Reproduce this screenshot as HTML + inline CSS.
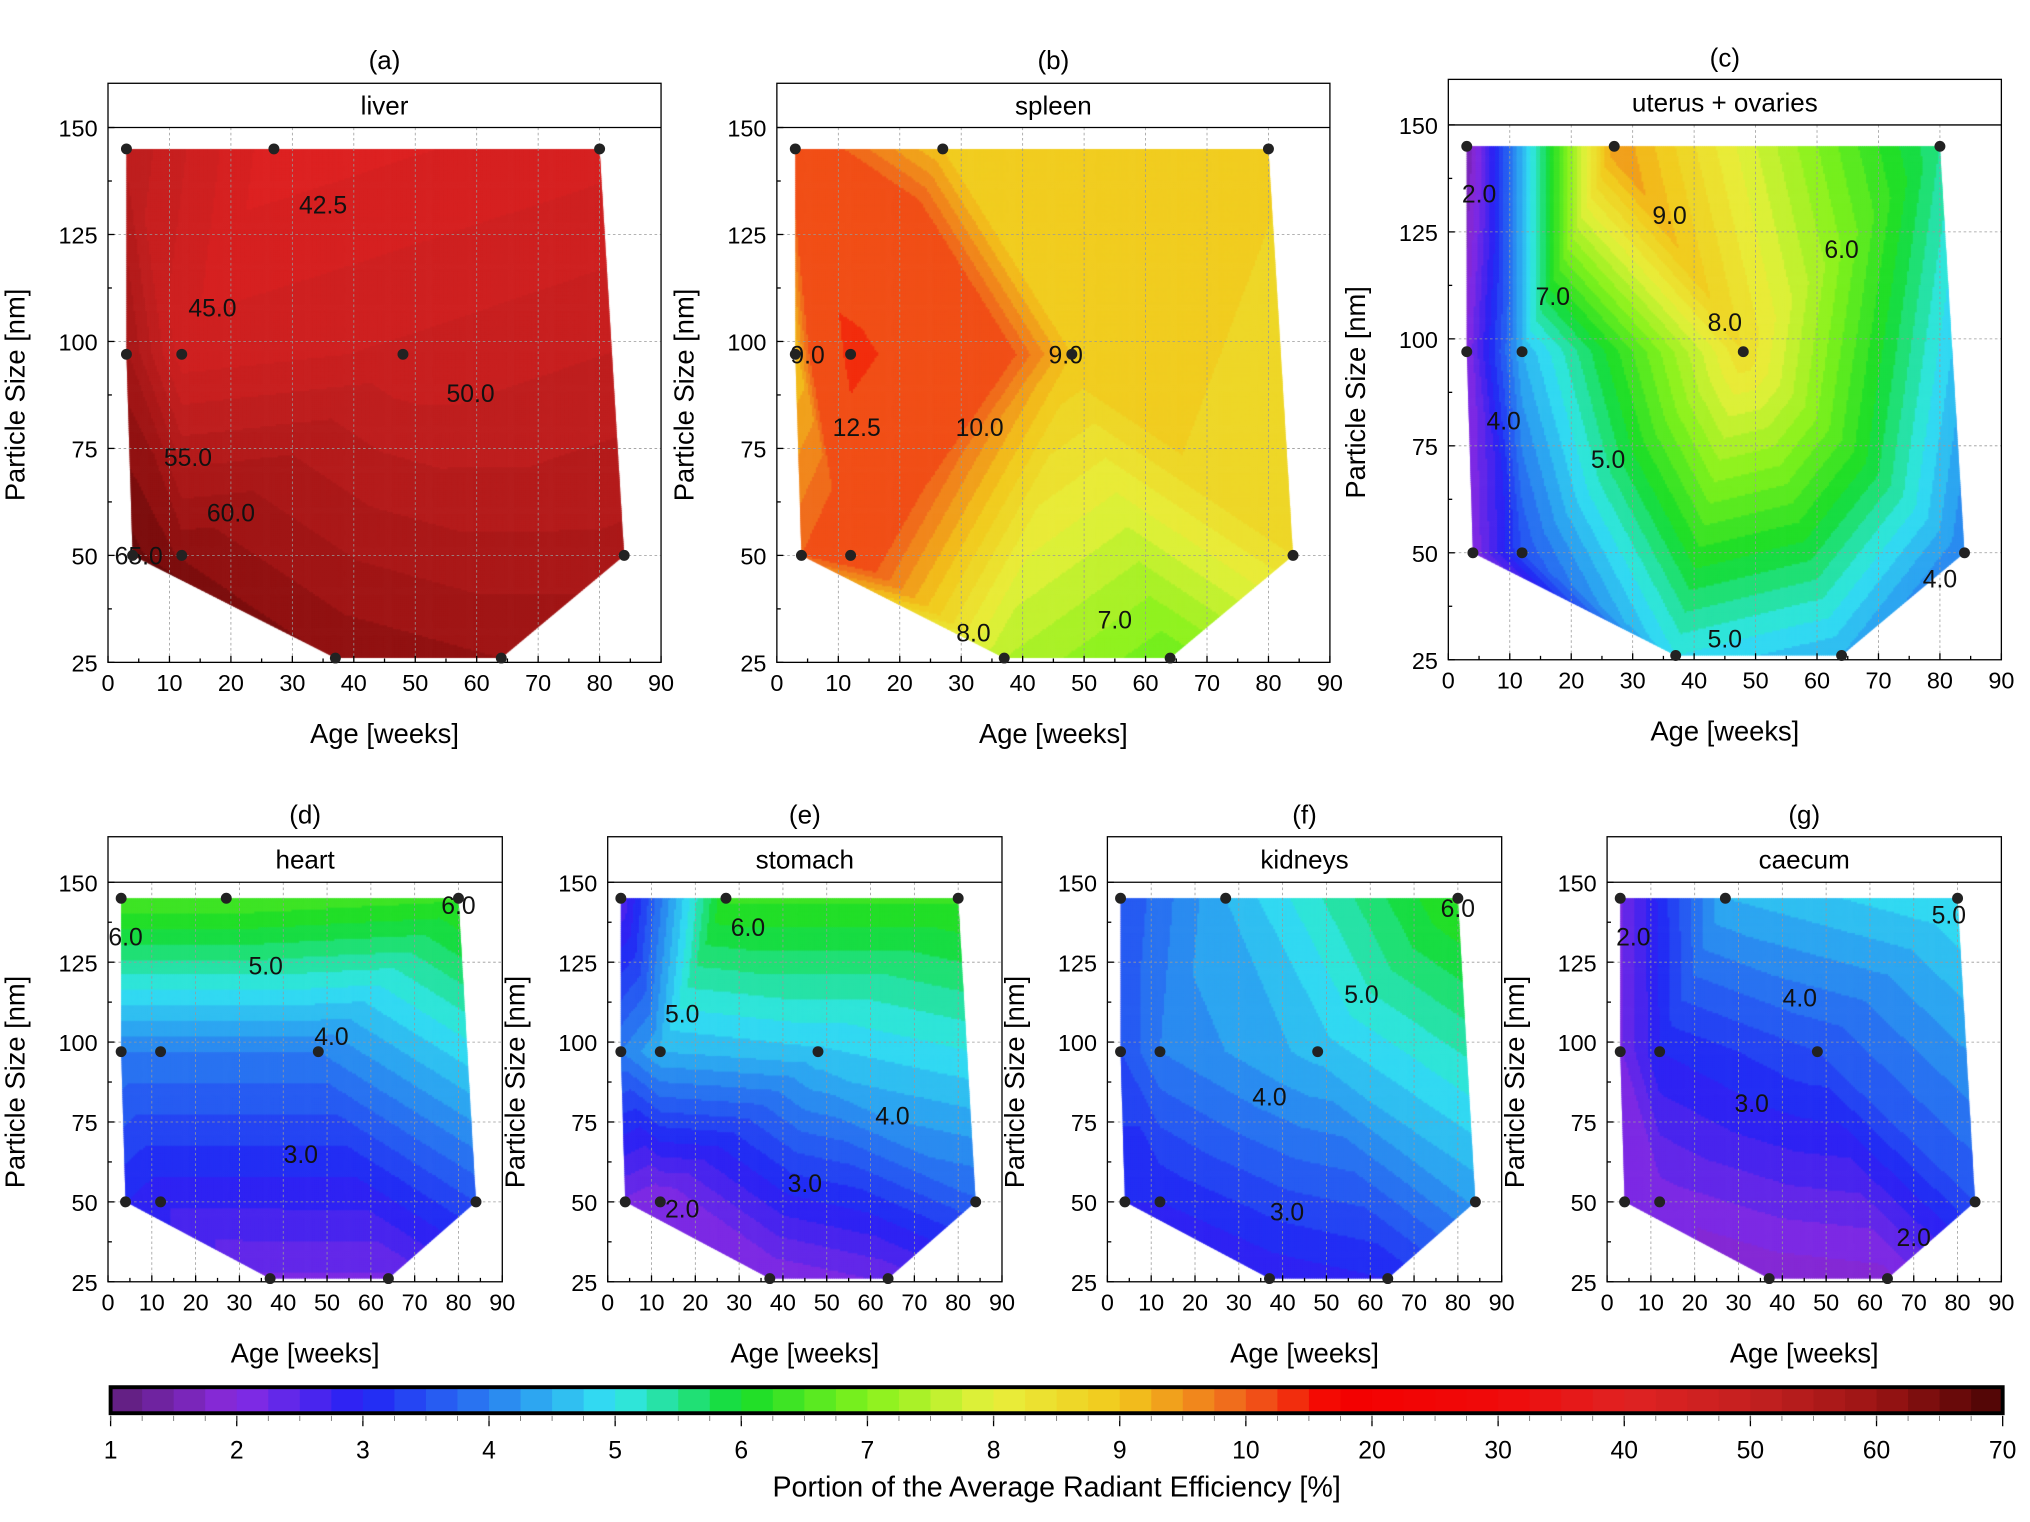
<!DOCTYPE html>
<html><head><meta charset="utf-8"><style>
html,body{margin:0;padding:0;background:#fff;}
#wrap{position:relative;width:2030px;height:1522px;}
canvas,svg{position:absolute;left:0;top:0;}
text{font-family:"Liberation Sans",Arial,sans-serif;}
</style></head><body>
<div id="wrap">
<canvas id="cv" width="2030" height="1522"></canvas>
<svg id="sv" width="2030" height="1522" viewBox="0 0 1560 1169.6" preserveAspectRatio="none"></svg>
</div>
<script>
// ---- data ----
const sampleAges  = [3, 27, 80, 3, 12, 48, 4, 12, 84, 37, 64];
const sampleSizes = [145,145,145, 97, 97, 97, 50, 50, 50, 26, 26];
const hullIdx = [0,1,2,8,10,9,6,3];
const triangles = [[0,1,4],[0,4,3],[1,2,5],[1,5,4],[2,8,5],[3,4,7],[3,7,6],[4,5,7],[5,8,10],[5,10,9],[5,9,7],[7,9,6]];
const organNames = ["liver","spleen","uterus + ovaries","heart","stomach","kidneys","caecum"];
const panelLetters = ["(a)","(b)","(c)","(d)","(e)","(f)","(g)"];
const liverVals   = [52,41,44,58,46,48,66,62,56,62,60];
const spleenVals  = [10.5,9,8.8,9,13,9,10,10.5,8.5,7.5,6.8];
const uterusVals  = [1.5,9.5,5.5,2,4.5,8.5,2,3.5,4,5,4.5];
const heartVals   = [6.5,6.5,6.3,4,4,4,3,2.8,3.5,2.2,2.2];
const stomachVals = [2.5,6.3,6.3,4,4.5,4.7,2.2,2,3.7,2,2.3];
const kidneyVals  = [3.5,4.5,6.3,3.5,4,4.6,3,3,4.3,2.8,3];
const caecumVals  = [2.2,4.5,5,2.2,3,3.5,2.2,2.1,3.5,1.8,1.9];
const panelVals = [liverVals,spleenVals,uterusVals,heartVals,stomachVals,kidneyVals,caecumVals];
const contourLabels = [
 [["42.5",35,132],["45.0",17,108],["50.0",59,88],["55.0",13,73],["60.0",20,60],["65.0",5,50]],
 [["9.0",5,97],["12.5",13,80],["10.0",33,80],["9.0",47,97],["8.0",32,32],["7.0",55,35]],
 [["2.0",5,134],["9.0",36,129],["6.0",64,121],["7.0",17,110],["8.0",45,104],["4.0",9,81],["5.0",26,72],["4.0",80,44],["5.0",45,30]],
 [["6.0",4,133],["6.0",80,143],["5.0",36,124],["4.0",51,102],["3.0",44,65]],
 [["6.0",32,136],["5.0",17,109],["4.0",65,77],["3.0",45,56],["2.0",17,48]],
 [["6.0",80,142],["5.0",58,115],["4.0",37,83],["3.0",41,47]],
 [["2.0",6,133],["5.0",78,140],["4.0",44,114],["3.0",33,81],["2.0",70,39]]
];
const xTicks = [0,10,20,30,40,50,60,70,80,90];
const yTicks = [25,50,75,100,125,150];
const cbTicks = [1,2,3,4,5,6,7,8,9,10,20,30,40,50,60,70];
// layout (display units)
const panels = [
 {x0:83,x1:508,yT:98,yB:509,hT:64,lab:46},
 {x0:597,x1:1022,yT:98,yB:509,hT:64,lab:46},
 {x0:1113,x1:1538,yT:96,yB:507,hT:61,lab:44},
 {x0:83,x1:386,yT:678,yB:985,hT:643,lab:626},
 {x0:467,x1:770,yT:678,yB:985,hT:643,lab:626},
 {x0:851,x1:1154,yT:678,yB:985,hT:643,lab:626},
 {x0:1235,x1:1538,yT:678,yB:985,hT:643,lab:626}
];
const S = 2030/1560;
const stops = [[0,"#5e1e78"],[1,"#8a2be2"],[2,"#2222f5"],[3,"#2a7ff0"],[4,"#33e6f2"],[5,"#14dc2a"],[6,"#84f21c"],[7,"#e8f03c"],[8,"#f2c81c"],[9,"#f0601c"],[9.7,"#f40000"],[11,"#f00a0a"],[12,"#e02222"],[13,"#c42020"],[14,"#9c1414"],[15,"#4a0404"]];
function hex(c){return [parseInt(c.substr(1,2),16),parseInt(c.substr(3,2),16),parseInt(c.substr(5,2),16)];}
function pos(v){ if(v<=10) return Math.max(0,v-1); return Math.min(15,9+(v-10)/10); }
function colAt(t){
 for(let i=0;i<stops.length-1;i++){ if(t<=stops[i+1][0]){ const a=hex(stops[i][1]),b=hex(stops[i+1][1]); const f=(t-stops[i][0])/(stops[i+1][0]-stops[i][0]); return `rgb(${Math.round(a[0]+(b[0]-a[0])*f)},${Math.round(a[1]+(b[1]-a[1])*f)},${Math.round(a[2]+(b[2]-a[2])*f)})`; } }
 return stops[stops.length-1][1];
}
function qcol(v){ const t=Math.floor(pos(v)*4)/4+0.125; return colAt(Math.min(15,t)); }
function interp(vals,a,s){
 let best=null,bd=1e9;
 for(const tr of triangles){
  const [i,j,k]=tr;
  const x1=sampleAges[i],y1=sampleSizes[i],x2=sampleAges[j],y2=sampleSizes[j],x3=sampleAges[k],y3=sampleSizes[k];
  const det=(y2-y3)*(x1-x3)+(x3-x2)*(y1-y3);
  const l1=((y2-y3)*(a-x3)+(x3-x2)*(s-y3))/det;
  const l2=((y3-y1)*(a-x3)+(x1-x3)*(s-y3))/det;
  const l3=1-l1-l2;
  const m=Math.min(l1,l2,l3);
  const d=m>=0?0:-m;
  if(d<bd){bd=d;best=[l1,l2,l3,i,j,k];}
  if(d===0)break;
 }
 const [l1,l2,l3,i,j,k]=best;
 return l1*vals[i]+l2*vals[j]+l3*vals[k];
}
const svg=document.getElementById('sv'); const NS="http://www.w3.org/2000/svg";
function el(tag,attrs,parent,txt){ const e=document.createElementNS(NS,tag); for(const k in attrs) e.setAttribute(k,attrs[k]); if(txt!==undefined) e.textContent=txt; (parent||svg).appendChild(e); return e; }
const ctx=document.getElementById('cv').getContext('2d'); ctx.scale(S,S);
panels.forEach((p,pi)=>{
 const X=a=>p.x0+a/90*(p.x1-p.x0), Y=s=>p.yT+(150-s)/125*(p.yB-p.yT);
 const g=el('g',{});  
 ctx.save(); ctx.beginPath(); hullIdx.forEach((k,j)=>{const x=X(sampleAges[k]),y=Y(sampleSizes[k]); j?ctx.lineTo(x,y):ctx.moveTo(x,y);}); ctx.closePath(); ctx.clip();
 const st=1.5;
 for(let x=p.x0;x<p.x1;x+=st){ for(let y=p.yT;y<p.yB;y+=st){ const a=(x+st/2-p.x0)/(p.x1-p.x0)*90, s=150-(y+st/2-p.yT)/(p.yB-p.yT)*125; ctx.fillStyle=qcol(interp(panelVals[pi],a,s)); ctx.fillRect(x,y,st+0.6,st+0.6);} }
 ctx.restore();
 xTicks.slice(1,-1).forEach(t=>{const l=el('line',{x1:X(t),x2:X(t),y1:p.yT,y2:p.yB,stroke:'#999','stroke-width':0.6,'stroke-dasharray':'2,2'},g);  });
 yTicks.slice(1,-1).forEach(t=>{const l=el('line',{x1:p.x0,x2:p.x1,y1:Y(t),y2:Y(t),stroke:'#999','stroke-width':0.6,'stroke-dasharray':'2,2'},g);  });
 el('rect',{x:p.x0,y:p.hT,width:p.x1-p.x0,height:p.yB-p.hT,fill:'none',stroke:'#000','stroke-width':1},g);
 el('line',{x1:p.x0,x2:p.x1,y1:p.yT,y2:p.yT,stroke:'#000','stroke-width':1},g);
 const ht=el('text',{x:(p.x0+p.x1)/2,y:(p.hT+p.yT)/2+7,'text-anchor':'middle','font-size':20},g,organNames[pi]);  
 const pl=el('text',{x:(p.x0+p.x1)/2,y:p.lab+7,'text-anchor':'middle','font-size':20},g,panelLetters[pi]);  
 xTicks.forEach(t=>{ el('line',{x1:X(t),x2:X(t),y1:p.yB,y2:p.yB-5,stroke:'#000'},g); const tx=el('text',{x:X(t),y:p.yB+22,'text-anchor':'middle','font-size':18},g,t);   });
 for(let t=5;t<90;t+=10) el('line',{x1:X(t),x2:X(t),y1:p.yB,y2:p.yB-3,stroke:'#000'},g);
 yTicks.forEach(t=>{ el('line',{x1:p.x0,x2:p.x0+5,y1:Y(t),y2:Y(t),stroke:'#000'},g); const tx=el('text',{x:p.x0-8,y:Y(t)+7,'text-anchor':'end','font-size':18},g,t);   });
 for(let t=37.5;t<150;t+=25) el('line',{x1:p.x0,x2:p.x0+3,y1:Y(t),y2:Y(t),stroke:'#000'},g);
 const xt=el('text',{x:(p.x0+p.x1)/2,y:p.yB+62,'text-anchor':'middle','font-size':21},g,'Age [weeks]');  
 const ycx=p.x0-64, ycy=(p.yT+p.yB)/2;
 const yt=el('text',{x:ycx,y:ycy,'text-anchor':'middle','font-size':21,transform:`rotate(-90 ${ycx} ${ycy})`},g,'Particle Size [nm]');  
 contourLabels[pi].forEach(c=>{ const t=el('text',{x:X(c[1]),y:Y(c[2])+7,'text-anchor':'middle','font-size':19,fill:'#111'},g,c[0]);   });
 sampleAges.forEach((a,i)=>{ const d=el('circle',{cx:X(a),cy:Y(sampleSizes[i]),r:4.2,fill:'#222'},g);   });
});
const cb={x0:85,x1:1539,y0:1066,y1:1086};
const cbg=el('g',{});  
const cw=(cb.x1-cb.x0)/60;
for(let i=0;i<60;i++){ el('rect',{x:cb.x0+i*cw,y:cb.y0,width:cw+0.4,height:cb.y1-cb.y0,fill:colAt(i/4+0.125)},cbg); }
el('rect',{x:cb.x0,y:cb.y0,width:cb.x1-cb.x0,height:cb.y1-cb.y0,fill:'none',stroke:'#000','stroke-width':3},cbg);
cbTicks.forEach((v,i)=>{ const x=cb.x0+pos(v)/15*(cb.x1-cb.x0); el('line',{x1:x,x2:x,y1:cb.y1+2,y2:cb.y1+10,stroke:'#000'},cbg); const t=el('text',{x:x,y:cb.y1+35,'text-anchor':'middle','font-size':19},cbg,v);   });
for(let i=0;i<60;i++){ const x=cb.x0+i*cw; el('line',{x1:x,x2:x,y1:cb.y1+2,y2:cb.y1+6,stroke:'#666','stroke-width':0.6},cbg); }
const cbt=el('text',{x:(cb.x0+cb.x1)/2,y:1150,'text-anchor':'middle','font-size':22},cbg,'Portion of the Average Radiant Efficiency [%]');  
</script>
</body></html>
